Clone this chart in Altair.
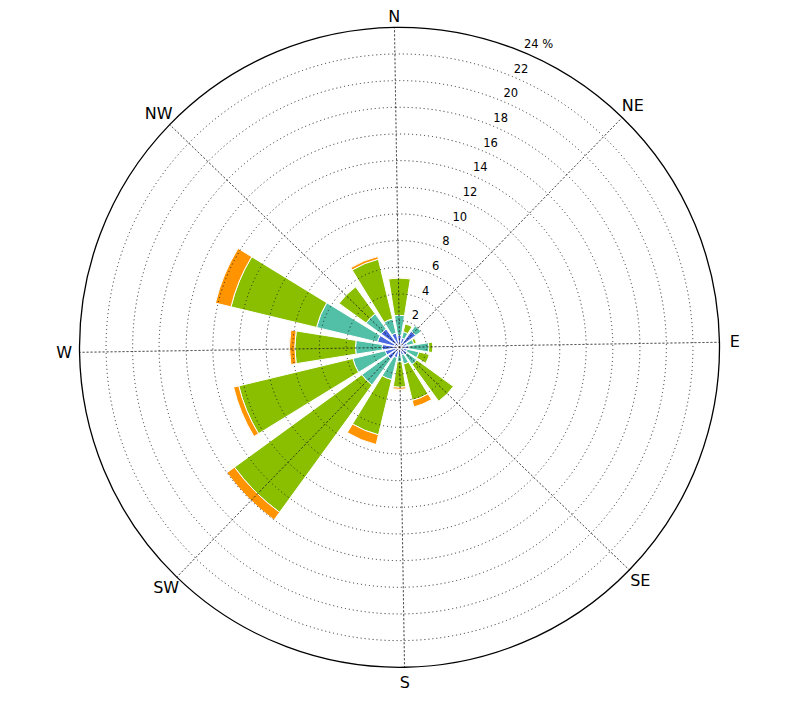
import altair as alt
import pandas as pd
import numpy as np

# ---- data (percent frequency per direction and speed bin) ----
directions = ["N", "NNE", "NE", "ENE", "E", "ESE", "SE", "SSE",
              "S", "SSW", "SW", "WSW", "W", "WNW", "NW", "NNW"]
bin_names = ["bin1", "bin2", "bin3", "bin4", "bin5"]
bin_colors = ["#2a3ed0", "#4a6ae0", "#52c0a6", "#8abf00", "#ff9400"]

bin1 = [0.3, 0.3, 0.3, 0.3, 0.3, 0.3, 0.3, 0.3, 0.3, 0.3, 0.3, 0.3, 0.3, 0.4, 0.4, 0.3]
bin2 = [0.6, 0.4, 1.2, 0.3, 0.4, 0.3, 0.4, 0.3, 0.3, 0.5, 0.8, 0.8, 1.0, 1.3, 1.3, 0.8]
bin3 = [1.5, 0.5, 0.5, 0.5, 1.5, 0.9, 0.9, 0.7, 0.5, 1.7, 2.4, 2.5, 2.0, 4.7, 1.4, 1.1]
bin4 = [2.8, 0.6, 0.0, 0.2, 0.3, 0.8, 3.4, 2.8, 1.9, 4.25, 11.8, 8.8, 4.55, 6.6, 2.5, 4.6]
bin5 = [0.05, 0.0, 0.0, 0.0, 0.0, 0.0, 0.0, 0.5, 0.15, 0.75, 0.7, 0.4, 0.4, 1.2, 0.0, 0.2]

ring_values = [2, 4, 6, 8, 10, 12, 14, 16, 18, 20, 22]
outer_value = [24]
tick_labels = ["2", "4", "6", "8", "10", "12", "14", "16", "18", "20", "22", "24 %"]
tick_values = [2, 4, 6, 8, 10, 12, 14, 16, 18, 20, 22, 24]
compass_labels = ["NE", "E", "SE", "S", "SW", "W", "NW"]
compass_angles = [45, 90, 135, 180, 225, 270, 315]

# ---- build tables ----
n_dir = len(directions)
step = 360.0 / n_dir
opening = 0.8
rows = []
stack = [bin1, bin2, bin3, bin4, bin5]
for i, d in enumerate(directions):
    center = i * step
    cum = 0.0
    for b, vals in zip(bin_names, stack):
        v = vals[i]
        if v <= 0:
            continue
        rows.append({"dir": d, "bin": b,
                     "t0": center - step * opening / 2,
                     "t1": center + step * opening / 2,
                     "r0": cum, "r1": cum + v})
        cum += v
bars_df = pd.DataFrame(rows)

rings_df = pd.DataFrame({"r": ring_values, "t0": 0, "t1": 361})
outer_df = pd.DataFrame({"r": outer_value, "t0": 0, "t1": 361})
spokes_df = pd.DataFrame({"a": [0, 45, 90, 135, 180, 225, 270, 315]})
spokes_df["r"] = 24
spokes_df["r0"] = 0
compass_df = pd.DataFrame({"label": compass_labels, "a": compass_angles, "r": 25.15})
north_df = pd.DataFrame({"label": ["N"], "a": [0], "r": [25.15]})
ticks_df = pd.DataFrame({"label": tick_labels, "r": tick_values, "a": 23.4})

# ---- scales ----
rot = 0.9 * np.pi / 180.0  # grid and labels are turned ~1 degree counter-clockwise
bar_theta = alt.Scale(type="linear", domain=[0, 360], range=[0, 2 * np.pi])
grid_theta = alt.Scale(type="linear", domain=[0, 360], range=[-rot, 2 * np.pi - rot])
r_scale = alt.Scale(type="linear", domain=[0, 24], range=[0, 320], zero=True)

CX, CY = 391.5, 339.3

bars = alt.Chart(bars_df).mark_arc(stroke="white", strokeWidth=1).encode(
    x=alt.value(CX), y=alt.value(CY),
    theta=alt.Theta("t0:Q", scale=bar_theta, stack=False),
    theta2="t1:Q",
    radius=alt.Radius("r1:Q", scale=r_scale, stack=False),
    radius2="r0:Q",
    color=alt.Color("bin:N", scale=alt.Scale(domain=bin_names, range=bin_colors), legend=None),
)

rings = alt.Chart(rings_df).mark_arc(
    fillOpacity=0, stroke="#222", strokeWidth=1, strokeDash=[1, 3]
).encode(
    x=alt.value(CX), y=alt.value(CY),
    theta=alt.Theta("t0:Q", scale=grid_theta, stack=False),
    theta2="t1:Q",
    radius=alt.Radius("r:Q", scale=r_scale, stack=False),
)

spokes = alt.Chart(spokes_df).mark_arc(
    fillOpacity=0, stroke="#222", strokeWidth=1, strokeDash=[1, 3]
).encode(
    x=alt.value(CX), y=alt.value(CY),
    theta=alt.Theta("a:Q", scale=grid_theta, stack=False),
    theta2="a:Q",
    radius=alt.Radius("r:Q", scale=r_scale, stack=False),
    radius2="r0:Q",
)

outer = alt.Chart(outer_df).mark_arc(
    fillOpacity=0, stroke="black", strokeWidth=1.3
).encode(
    x=alt.value(CX), y=alt.value(CY),
    theta=alt.Theta("t0:Q", scale=grid_theta, stack=False),
    theta2="t1:Q",
    radius=alt.Radius("r:Q", scale=r_scale, stack=False),
)

compass = alt.Chart(compass_df).mark_text(
    font="DejaVu Sans", fontSize=16, color="black", align="center", baseline="middle"
).encode(
    x=alt.value(CX), y=alt.value(CY),
    theta=alt.Theta("a:Q", scale=grid_theta, stack=False),
    radius=alt.Radius("r:Q", scale=r_scale, stack=False),
    text="label:N",
)

north = alt.Chart(north_df).mark_text(
    font="DejaVu Sans", fontSize=16, color="black", align="center", baseline="middle", dy=5
).encode(
    x=alt.value(CX), y=alt.value(CY),
    theta=alt.Theta("a:Q", scale=grid_theta, stack=False),
    radius=alt.Radius("r:Q", scale=r_scale, stack=False),
    text="label:N",
)

ticks = alt.Chart(ticks_df).mark_text(
    font="DejaVu Sans", fontSize=11.5, color="black", align="left", baseline="middle",
    dx=2, dy=-6.5
).encode(
    x=alt.value(CX), y=alt.value(CY),
    theta=alt.Theta("a:Q", scale=grid_theta, stack=False),
    radius=alt.Radius("r:Q", scale=r_scale, stack=False),
    text="label:N",
)

chart = alt.layer(bars, rings, spokes, outer, compass, north, ticks).resolve_scale(
    theta="independent"
).properties(
    width=784, height=691,
    autosize=alt.AutoSizeParams(type="none"),
    padding=0,
).configure_view(stroke=None)

chart.save("out.html", embed_options={"renderer": "svg", "actions": False})
